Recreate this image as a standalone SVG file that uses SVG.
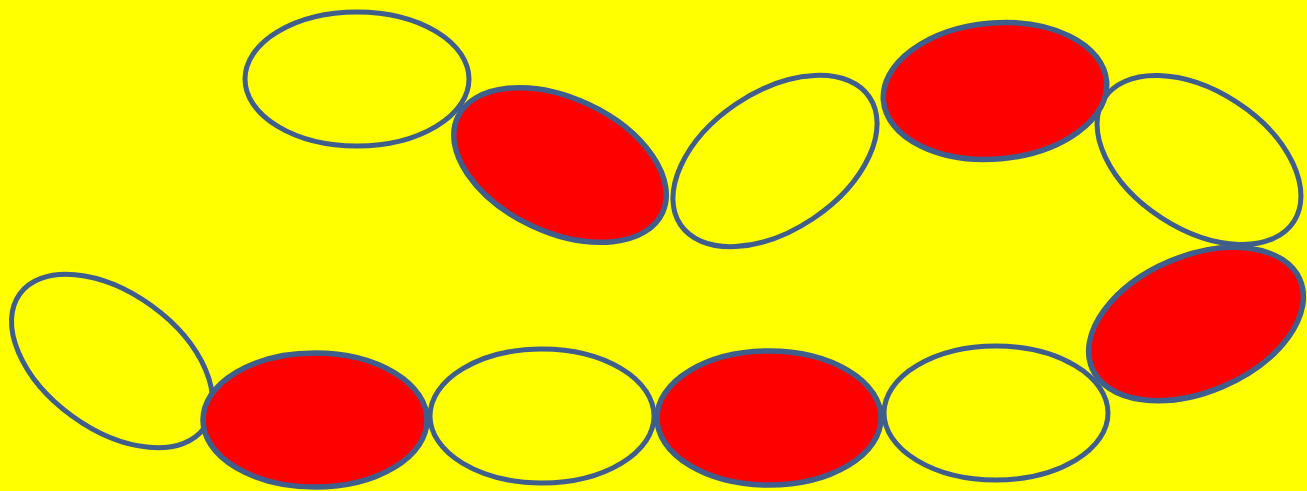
<svg xmlns="http://www.w3.org/2000/svg" width="1307" height="491" viewBox="0 0 1307 491">
<style>
.o{fill:#FFFF00;stroke:#3F5E8B;stroke-width:5}
.r{fill:#FF0000;stroke:#3F5E8B;stroke-width:5.5}
</style>
<rect width="1307" height="491" fill="#FFFF00"/>
<g id="e1"><ellipse class="o" cx="357" cy="79" rx="112" ry="67"/></g>
<g id="e3"><ellipse class="o" cx="775" cy="161" rx="114" ry="69" transform="rotate(-34 775 161)"/></g>
<g id="e5"><ellipse class="o" cx="1199" cy="160" rx="113" ry="69" transform="rotate(33 1199 160)"/></g>
<g id="e6"><ellipse class="o" cx="112" cy="361" rx="114" ry="68" transform="rotate(36 112 361)"/></g>
<g id="e8"><ellipse class="o" cx="542" cy="416" rx="112" ry="67"/></g>
<g id="e10"><ellipse class="o" cx="996" cy="413" rx="112" ry="67"/></g>
<g id="e2"><ellipse class="r" cx="560" cy="165" rx="113" ry="67" transform="rotate(25 560 165)"/></g>
<g id="e4"><ellipse class="r" cx="995" cy="91" rx="112" ry="68" transform="rotate(-5 995 91)"/></g>
<g id="e7"><ellipse class="r" cx="315" cy="420" rx="112" ry="67"/></g>
<g id="e9"><ellipse class="r" cx="769" cy="418" rx="112" ry="67"/></g>
<g id="e11"><ellipse class="r" cx="1196" cy="324" rx="113" ry="68" transform="rotate(-23 1196 324)"/></g>
<g id="connectors"></g>
</svg>
